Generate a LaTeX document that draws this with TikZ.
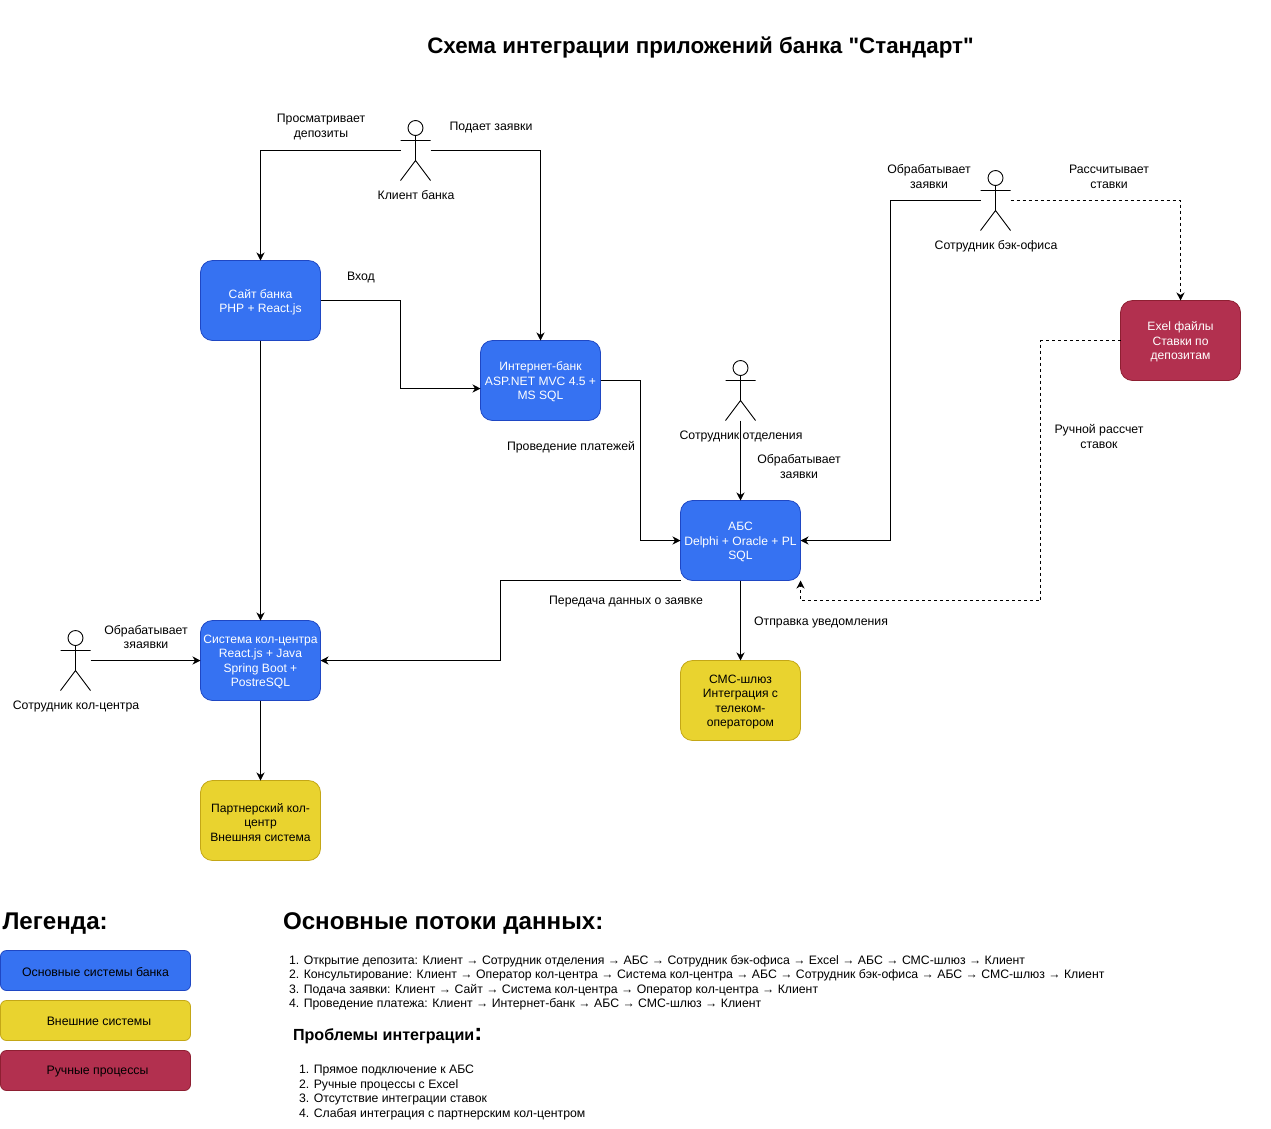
\documentclass[tikz,border=0pt]{standalone}
\usepackage{fontspec}
\setmainfont{Liberation Sans}
\newfontfamily\rawfont{Liberation Sans}
\usetikzlibrary{arrows.meta}
\definecolor{bluef}{HTML}{3672F2}
\definecolor{blued}{HTML}{1F47C4}
\definecolor{yelf}{HTML}{E9D32F}
\definecolor{yeld}{HTML}{C4A716}
\definecolor{redf}{HTML}{B2304F}
\definecolor{redd}{HTML}{8E1F32}
\tikzset{
 x=1pt,y=-1pt,
 every node/.style={font=\fontsize{12.3}{14.5}\selectfont,inner sep=0pt,outer sep=0pt,align=center},
 tx/.style={yshift=-1.2pt},
 box/.style={draw,rounded corners=12pt,minimum width=120pt,minimum height=80pt,line width=.8pt},
 bluebox/.style={box,fill=bluef,draw=blued},
 yelbox/.style={box,fill=yelf,draw=yeld},
 redbox/.style={box,fill=redf,draw=redd},
 legbox/.style={draw,rounded corners=6pt,minimum width=190pt,minimum height=40pt,line width=.8pt},
 actorbox/.style={minimum width=30pt,minimum height=60pt},
 flow/.style={draw=black,line width=.9pt,-{Stealth[length=8pt,width=8pt,inset=2.5pt]}},
 dflow/.style={flow,dash pattern=on 3pt off 3pt},
 stick/.style={draw=black,line width=.9pt,fill=none},
 hbig/.style={font=\fontsize{24.15}{28}\bfseries\selectfont},
 listtext/.style={font=\fontsize{12.26}{14.5}\selectfont,anchor=north west,align=left},
}
\newcommand{\actor}[3]{%
 \node[actorbox] (#1) at (#2,#3) {};
 \draw[stick] (#2,#3-22.5) circle (7.5);
 \draw[stick] (#2,#3-15) -- (#2,#3+10) (#2-15,#3-10) -- (#2+15,#3-10)
   (#2-15,#3+30) -- (#2,#3+10) -- (#2+15,#3+30);
}
\newcommand{\sysbox}[6]{%
 \node[#1] (#2) at (#3,#4) {};
 \node[tx,yshift=-.4pt,text=#5,font=\fontsize{12.1}{14.5}\selectfont] (#2t) at (#3,#4) {#6};
}
\begin{document}
\begin{tikzpicture}
\useasboundingbox (-0.5,-0.5) rectangle (1270.5,1127.5);
\fill[white] (-0.5,-0.5) rectangle (1270.5,1127.5);
\node[tx,font=\rawfont\fontsize{22.35}{26}\bfseries\selectfont] (title) at (700,46) {Схема интеграции приложений банка "Стандарт"};
\sysbox{bluebox}{site}{260}{300}{white}{Сайт банка\\PHP + React.js}
\sysbox{bluebox}{ibank}{540}{380}{white}{Интернет-банк\\ASP.NET MVC 4.5 +\\MS SQL}
\sysbox{bluebox}{abs}{740}{540}{white}{АБС\\Delphi + Oracle + PL\\SQL}
\sysbox{bluebox}{cc}{260}{660}{white}{Система кол-центра\\React.js + Java\\Spring Boot +\\PostreSQL}
\sysbox{yelbox}{sms}{740}{700}{black}{СМС-шлюз\\Интеграция с\\телеком-\\оператором}
\sysbox{yelbox}{partner}{260}{820}{black}{Партнерский кол-\\центр\\Внешняя система}
\sysbox{redbox}{excel}{1180}{340}{white}{Exel файлы\\Ставки по\\депозитам}
\actor{client}{415}{150}
\actor{back}{995}{200}
\actor{branch}{740}{390}
\actor{agent}{75}{660}
\node[tx] (lclient) at (415.5,193) {Клиент банка};
\node[tx] (lback) at (995.5,244.5) {Сотрудник бэк-офиса};
\node[tx] (lbranch) at (740.5,434.5) {Сотрудник отделения};
\node[tx] (lagent) at (75.5,704.5) {Сотрудник кол-центра};
\node[tx] (t1) at (320.5,125.5) {Просматривает\\депозиты};
\node[tx] (t2) at (490.5,125.5) {Подает заявки};
\node[tx] (t3) at (360.5,275.5) {Вход};
\node[tx] (t4) at (570.5,445.5) {Проведение платежей};
\node[tx] (t5) at (928.5,175) {Обрабатывает\\заявки};
\node[tx] (t6) at (1108.5,175) {Рассчитывает\\ставки};
\node[tx] (t7) at (798.5,465) {Обрабатывает\\заявки};
\node[tx] (t8) at (1098.5,435) {Ручной рассчет\\ставок};
\node[tx] (t9) at (625.5,600) {Передача данных о заявке};
\node[tx] (t10) at (820.5,620.5) {Отправка уведомления};
\node[tx] (t11) at (145.5,635.5) {Обрабатывает\\зяаявки};
\draw[flow] (client.west) -| (site.north);
\draw[flow] (client.east) -| (ibank.north);
\draw[flow] (site.east) -- (400,300) |- (480,388);
\draw[flow] (ibank.east) -- (640,380) |- (abs.west);
\draw[flow] (site.south) -- (cc.north);
\draw[flow] (abs.south west) -- (500,580) |- (cc.east);
\draw[flow] (abs.south) -- (sms.north);
\draw[flow] (cc.south) -- (partner.north);
\draw[flow] (agent.east) -- (cc.west);
\draw[flow] (branch.south) -- (abs.north);
\draw[flow] (back.west) -- (890,200) |- (abs.east);
\draw[dflow] (back.east) -| (excel.north);
\draw[dflow] (excel.west) -- (1040,340) |- (800,600) -- (abs.south east);
\node[tx,anchor=west,hbig] (leg) at (2,921.5) {Легенда:};
\node[legbox,fill=bluef,draw=blued] (l1) at (95,970) {};
\node[legbox,fill=yelf,draw=yeld] (l2) at (95,1020) {};
\node[legbox,fill=redf,draw=redd] (l3) at (95,1070) {};
\node[tx] (l1t) at (95,970) {Основные системы банка};
\node[tx] (l2t) at (98.5,1020) {Внешние системы};
\node[tx] (l3t) at (97,1070) {Ручные процессы};
\node[tx,anchor=west,hbig] (h1) at (282.5,921.5) {Основные потоки данных:};
\node[tx,listtext] (flows) at (288.5,953.5) {1. Открытие депозита: Клиент → Сотрудник отделения → АБС → Сотрудник бэк-офиса → Excel → АБС → СМС-шлюз → Клиент\\
2. Консультирование: Клиент → Оператор кол-центра → Система кол-центра → АБС → Сотрудник бэк-офиса → АБС → СМС-шлюз → Клиент\\
3. Подача заявки: Клиент → Сайт → Система кол-центра → Оператор кол-центра → Клиент\\
4. Проведение платежа: Клиент → Интернет-банк → АБС → СМС-шлюз → Клиент};
\node[tx,anchor=west,font=\fontsize{16.1}{20}\bfseries\selectfont] (h2) at (292.5,1034.5) {Проблемы интеграции\fontsize{24}{24}\selectfont:};
\node[tx,listtext] (probs) at (298.5,1063.5) {1. Прямое подключение к АБС\\
2. Ручные процессы с Excel\\
3. Отсутствие интеграции ставок\\
4. Слабая интеграция с партнерским кол-центром};
\end{tikzpicture}
\end{document}
